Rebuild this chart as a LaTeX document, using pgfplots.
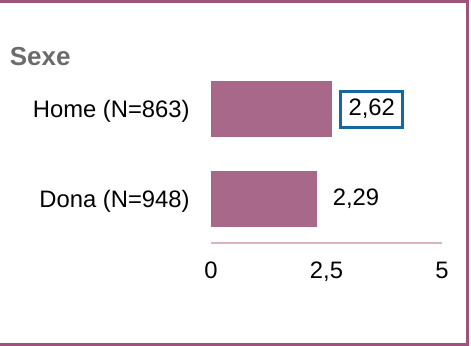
\documentclass[border=0pt]{standalone}
\usepackage{pgfplots}
\pgfplotsset{compat=1.18}
\usepackage{fontspec}
\setmainfont{Liberation Sans}
\definecolor{barcol}{RGB}{168,104,138}
\definecolor{framecol}{RGB}{160,82,126}
\definecolor{axcol}{RGB}{216,178,198}
\definecolor{boxblue}{RGB}{22,103,160}
\definecolor{titlegray}{RGB}{107,107,107}
\begin{document}
\fontsize{11.9bp}{14bp}\selectfont
\begin{tikzpicture}
\useasboundingbox (0,0) rectangle (235.5bp,173bp);
\fill[white] (0,0) rectangle (235.5bp,173bp);
\draw[framecol, line width=1.5bp] (0,172.25bp) -- (233.5bp,172.25bp) -- (233.5bp,0.7bp) -- (0,0.7bp);
\node[anchor=base west, inner sep=0, text=titlegray, font=\fontsize{13bp}{15bp}\selectfont\bfseries] at (4.75bp,140.4bp) {Sexe};
\begin{axis}[
  at={(105.5bp,51.5bp)}, anchor=south west,
  width=115.5bp, height=89bp, scale only axis,
  xmin=0, xmax=5, ymin=-0.489, ymax=1.489,
  xbar, bar width=0.622, bar shift=0pt,
  axis x line*=bottom, axis y line*=left,
  x axis line style={-, draw=axcol, line width=1bp},
  y axis line style={draw=none},
  major tick length=0,
  xtick={0,2.5,5}, xticklabels={0,{2,5},5},
  ytick={0,1}, yticklabels={Dona (N=948),Home (N=863)},
  tick label style={font=\fontsize{11.9bp}{14bp}\selectfont},
  xticklabel style={anchor=north, inner sep=0, text height=8.6bp, text depth=1.8bp, yshift=-8.75bp},
  yticklabel style={anchor=base east, inner sep=0, xshift=-10.5bp, yshift=-4.25bp},
  /pgf/number format/assume math mode=true,
  clip=false,
  point meta=explicit symbolic,
  nodes near coords,
]
\addplot[fill=barcol, draw=none,
  nodes near coords style={anchor=west, outer sep=0, xshift=4.25bp, draw=boxblue, line width=1.5bp, inner xsep=4bp, inner ysep=3.8bp, text height=8.6bp, text depth=1.8bp, text=black, font=\fontsize{11.9bp}{14bp}\selectfont}]
  coordinates {(2.62,1) [2,62]};
\addplot[fill=barcol, draw=none,
  nodes near coords style={anchor=west, outer sep=0, xshift=4bp, inner xsep=4bp, inner ysep=3.8bp, text height=8.6bp, text depth=1.8bp, text=black, font=\fontsize{11.9bp}{14bp}\selectfont}]
  coordinates {(2.29,0) [2,29]};
\end{axis}
\end{tikzpicture}
\end{document}
